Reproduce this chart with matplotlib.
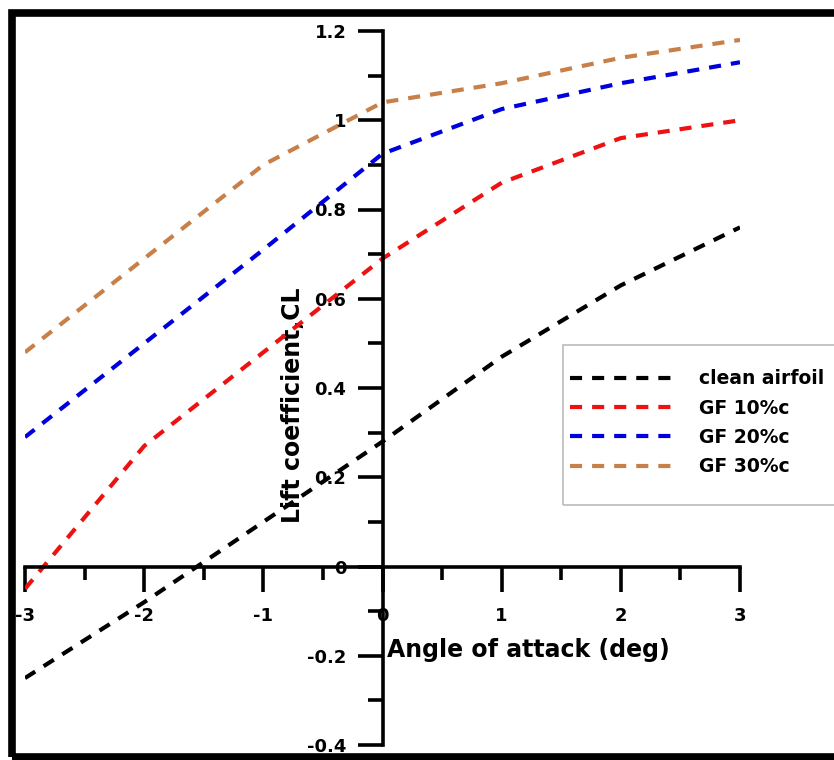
import matplotlib
matplotlib.use('Agg')
import matplotlib.pyplot as plt
from matplotlib.patches import Rectangle
from matplotlib.ticker import MultipleLocator

# angle of attack (deg) and lift coefficient values
aoa = [-3, -2, -1, 0, 1, 2, 3]
cl_clean = [-0.25, -0.08, 0.10, 0.28, 0.47, 0.63, 0.76]
cl_gf10 = [-0.05, 0.27, 0.48, 0.69, 0.86, 0.96, 1.00]
cl_gf20 = [0.29, 0.50, 0.71, 0.925, 1.025, 1.083, 1.13]
cl_gf30 = [0.48, 0.69, 0.90, 1.04, 1.083, 1.14, 1.18]

series_names = ['clean airfoil', 'GF 10%c', 'GF 20%c', 'GF 30%c']
series_colors = ['black', '#ee1111', '#0000dd', '#c8804a']

plt.rcParams['font.family'] = ['DejaVu Sans']
plt.rcParams['font.weight'] = 'bold'
plt.rcParams['axes.unicode_minus'] = False

fig = plt.figure(figsize=(8.34, 7.6), dpi=100)
ax = fig.add_axes([25 / 834, 15 / 760, 715 / 834, 714 / 760])

for vals, name, col in zip([cl_clean, cl_gf10, cl_gf20, cl_gf30], series_names, series_colors):
    ax.plot(aoa, vals, color=col, lw=3, dashes=(2.9, 2.4), label=name)

ax.set_xlim(-3, 3)
ax.set_ylim(-0.4, 1.2)

# spines crossing at the origin
ax.spines['left'].set_position(('data', 0))
ax.spines['bottom'].set_position(('data', 0))
ax.spines['top'].set_visible(False)
ax.spines['right'].set_visible(False)
for s in ['left', 'bottom']:
    ax.spines[s].set_linewidth(2.6)

ax.xaxis.set_major_locator(MultipleLocator(1))
ax.xaxis.set_minor_locator(MultipleLocator(0.5))
ax.yaxis.set_minor_locator(MultipleLocator(0.1))
ax.set_yticks([-0.4, -0.2, 0, 0.2, 0.4, 0.6, 0.8, 1.0, 1.2])
ax.set_yticklabels(['-0.4', '-0.2', '0', '0.2', '0.4', '0.6', '0.8', '1', '1.2'])

ax.tick_params(axis='x', which='major', direction='out', length=18, width=2.6, pad=11, labelsize=13)
ax.tick_params(axis='x', which='minor', direction='out', length=9, width=2.6)
ax.tick_params(axis='y', which='major', direction='out', length=18, width=2.6, pad=8, labelsize=13)
ax.tick_params(axis='y', which='minor', direction='out', length=11, width=2.6)
for lab in ax.get_xticklabels() + ax.get_yticklabels():
    lab.set_fontweight('bold')

ax.set_xlabel('Angle of attack (deg)', fontsize=17, fontweight='bold')
ax.xaxis.set_label_coords(0.506, 0.133)
ax.xaxis.label.set_ha('left')
ax.xaxis.label.set_va('center')

ax.set_ylabel('Lift coefficient,CL', fontsize=17, fontweight='bold')
ax.yaxis.set_label_coords(0.375, 0.476)
ax.yaxis.label.set_va('center')

# legend box runs off the right edge of the picture, so draw it separately
ax.add_patch(Rectangle((0.752, 0.336), 0.5, 0.224, transform=ax.transAxes, fill=False,
                       edgecolor='#bbbbbb', linewidth=1.2, clip_on=False, zorder=4))
leg = ax.legend(loc='upper left', bbox_to_anchor=(0.762, 0.526), frameon=False,
                prop={'weight': 'bold', 'size': 13.5}, handlelength=5.4, handletextpad=1.5,
                labelspacing=0.55, borderpad=0, borderaxespad=0)

# thick black frame round the picture
fig.patches.append(Rectangle((11.5 / 834, 3 / 760), 1.2, 744.5 / 760, transform=fig.transFigure,
                             fill=False, edgecolor='black', linewidth=5.5, clip_on=False))

fig.savefig('out.png', dpi=100)
